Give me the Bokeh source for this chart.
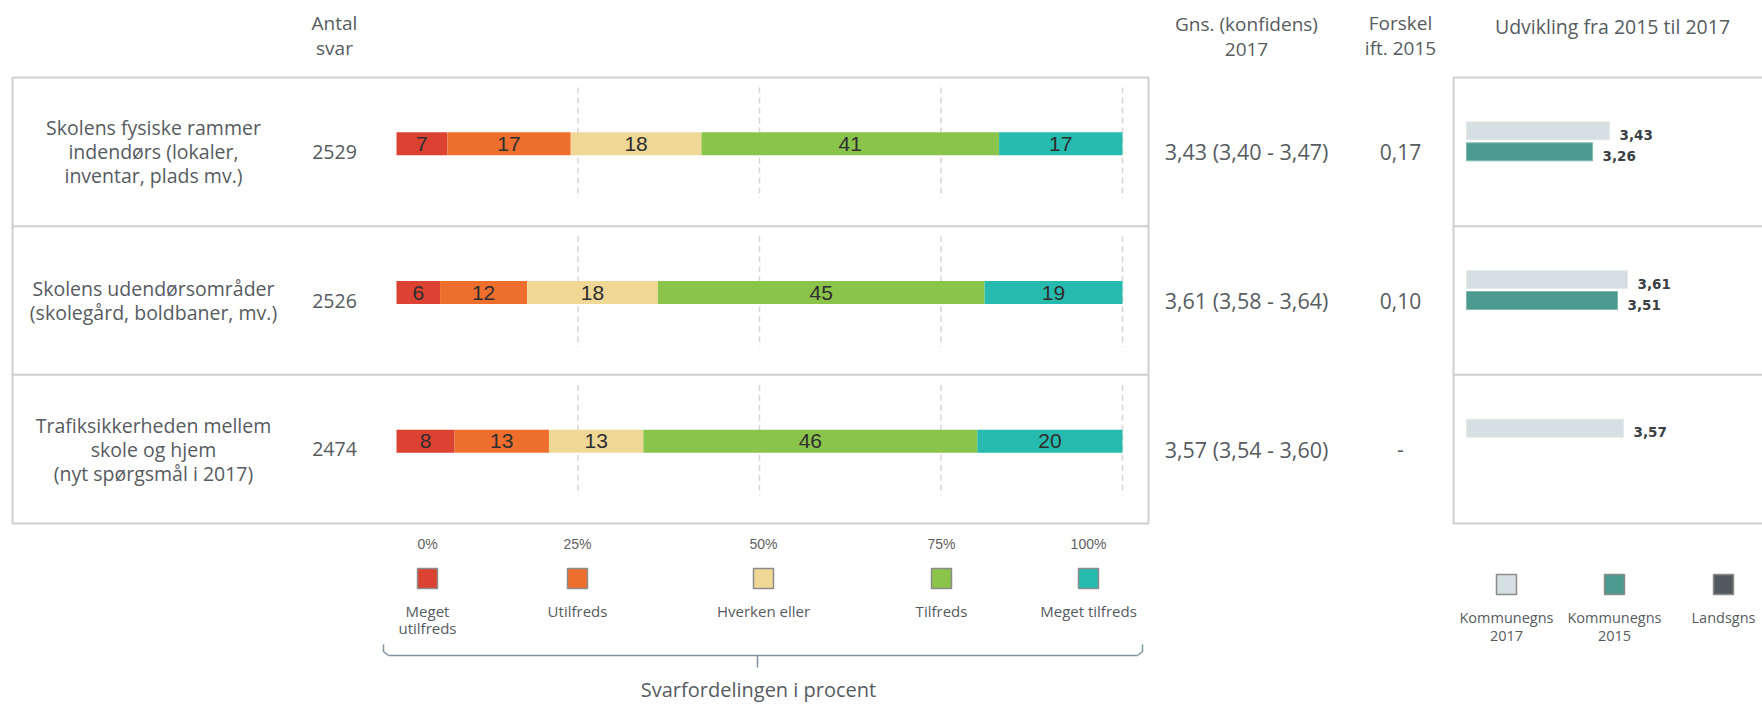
import numpy as np
from bokeh.plotting import figure
from bokeh.models import Range1d, ColumnDataSource
from bokeh.core.properties import value
from bokeh.embed import file_html
from bokeh.resources import INLINE

# ---------------- data ----------------
questions = [
    "Skolens fysiske rammer\nindendørs (lokaler,\ninventar, plads mv.)",
    "Skolens udendørsområder\n(skolegård, boldbaner, mv.)",
    "Trafiksikkerheden mellem\nskole og hjem\n(nyt spørgsmål i 2017)",
]
n_answers = [2529, 2526, 2474]
categories = ["Meget\nutilfreds", "Utilfreds", "Hverken eller", "Tilfreds", "Meget tilfreds"]
pct_meget_utilfreds = [7, 6, 8]
pct_utilfreds = [17, 12, 13]
pct_hverken = [18, 18, 13]
pct_tilfreds = [41, 45, 46]
pct_meget_tilfreds = [17, 19, 20]
tick_labels = ["0%", "25%", "50%", "75%", "100%"]
grid_pct = [25, 50, 75, 100]
mean_2017 = [3.43, 3.61, 3.57]
ci_low = [3.40, 3.58, 3.54]
ci_high = [3.47, 3.64, 3.60]
mean_2015 = [3.26, 3.51, None]
diff_2015 = [0.17, 0.10, None]
legend_right = ["Kommunegns\n2017", "Kommunegns\n2015", "Landsgns"]

# ---------------- style ----------------
FONT = value("Open Sans")
NUMF = value("Liberation Sans")
TXT = "#565b60"
seg_colors = ["#dc4232", "#ee6f2d", "#efd796", "#8bc44b", "#27bbaf"]
right_colors = ["#d6dfe1", "#4c9a8f", "#535a5f"]
BORDER = "#cfcfcf"
LH = 1.362  # Open Sans ascent+descent (em)

W, H = 1762, 705
X0, X1 = 0, W
Y0, Y1 = 0, H

# layout (page pixels)
ROW_TOP, ROW_BOT = 77, 523
ROW_H = (ROW_BOT - ROW_TOP) / 3
row_c = [ROW_TOP + ROW_H * (i + 0.5) for i in range(3)]
row_t = [ROW_TOP + ROW_H * i for i in range(3)]
PX0, PX100 = 396, 1122              # pixel span of the 0..100 % scale
SPX, SVAL, SPPU = 1466, 2.0, 100.0  # score scale: value 2 at 1466, 100 px / unit

p = figure(width=W, height=H, x_range=Range1d(X0, X1), y_range=Range1d(Y1, Y0),
           output_backend="svg", toolbar_location=None, x_axis_type=None,
           y_axis_type=None, min_border=0)
p.grid.visible = False
p.outline_line_color = None
p.background_fill_color = "white"

ppp = 100.0 / (PX100 - PX0)
p.extra_x_ranges = {
    "pct": Range1d(-(PX0 - X0) * ppp, 100 + (X1 - PX100) * ppp),
    "score": Range1d(SVAL - (SPX - X0) / SPPU, SVAL + (X1 - SPX) / SPPU),
}

# ---------------- boxes ----------------
p.quad(left=[12, 1453], right=[1148, 1775], top=[ROW_TOP, ROW_TOP], bottom=[ROW_BOT, ROW_BOT],
       fill_color=None, line_color=BORDER, line_width=2)
for yy in row_t[1:]:
    p.segment(x0=[12, 1453], x1=[1148, 1775], y0=[yy, yy], y1=[yy, yy],
              line_color=BORDER, line_width=2)

# ---------------- headers ----------------
p.text(x=[334, 1246, 1400], y=[35, 36, 35],
       text=["Antal\nsvar", "Gns. (konfidens)\n2017", "Forskel\nift. 2015"],
       text_font=FONT, text_font_size="19px", text_color=TXT, text_align="center",
       text_baseline="middle", text_line_height=24 / (LH * 19))
p.text(x=[1612], y=[26], text=["Udvikling fra 2015 til 2017"], text_font=FONT,
       text_font_size="19.5px", text_color=TXT, text_align="center", text_baseline="middle")

# ---------------- row texts ----------------
p.text(x=[153] * 3, y=row_c, text=questions, text_font=FONT, text_font_size="19.5px",
       text_color=TXT, text_align="center", text_baseline="middle",
       text_line_height=23.5 / (LH * 19.5))
p.text(x=[334] * 3, y=row_c, text=[str(v) for v in n_answers], text_font=FONT,
       text_font_size="19.5px", text_color=TXT, text_align="center", text_baseline="middle")

def fmt(v):
    return f"{v:.2f}".replace(".", ",")

mean_txt = [f"{fmt(m)} ({fmt(a)} - {fmt(b)})" for m, a, b in zip(mean_2017, ci_low, ci_high)]
diff_txt = [fmt(d) if d is not None else "-" for d in diff_2015]
p.text(x=[1246] * 3, y=row_c, text=mean_txt, text_font=FONT, text_font_size="21.5px",
       text_color=TXT, text_align="center", text_baseline="middle")
p.text(x=[1400] * 3, y=row_c, text=diff_txt, text_font=FONT, text_font_size="21px",
       text_color=TXT, text_align="center", text_baseline="middle")

# ---------------- gridlines ----------------
gx, gy0, gy1 = [], [], []
for t in row_t:
    for g in grid_pct:
        gx.append(g); gy0.append(t + 10); gy1.append(t + ROW_H - 28)
p.segment(x0=gx, x1=gx, y0=gy0, y1=gy1, x_range_name="pct", line_color="#d6d6d6",
          line_width=1.5, line_dash="6 4")

# ---------------- stacked bars ----------------
series = [pct_meget_utilfreds, pct_utilfreds, pct_hverken, pct_tilfreds, pct_meget_tilfreds]
vals = np.array(series, dtype=float)  # 5 x 3
cum = np.cumsum(vals, axis=0)
left = cum - vals
bar_y = [c - 8 for c in row_c]
for k in range(5):
    src = ColumnDataSource(dict(y=bar_y, left=left[k], right=cum[k],
                                mid=(left[k] + cum[k]) / 2, lab=[str(int(v)) for v in vals[k]]))
    p.hbar(y="y", left="left", right="right", height=23, source=src, x_range_name="pct",
           fill_color=seg_colors[k], line_color=None)
    p.text(x="mid", y="y", text="lab", source=src, x_range_name="pct", text_font=NUMF,
           text_font_size="21px", text_color="#2e2e2e", text_align="center",
           text_baseline="middle")

# ---------------- percent labels & legend (left) ----------------
LEG_X = [427, 577, 763, 941, 1088]
p.text(x=LEG_X, y=[543] * 5, text=tick_labels, text_font=NUMF, text_font_size="14px",
       text_color="#606060", text_align="center", text_baseline="middle")
p.scatter(x=LEG_X, y=[578] * 5, marker="square", size=20, fill_color=seg_colors,
          line_color="#8c8c8c", line_width=1.5)
leg_y = [610 + 9 * (c.count("\n")) for c in categories]
p.text(x=LEG_X, y=leg_y, text=categories, text_font=FONT, text_font_size="15px",
       text_color=TXT, text_align="center", text_baseline="middle",
       text_line_height=18 / (LH * 15))

# brace
bc = "#8193a0"
p.multi_line(xs=[[383, 383, 388], [388, 1137], [1142, 1142, 1137], [757, 757]],
             ys=[[644, 651, 655], [655, 655], [644, 651, 655], [655, 667]],
             line_color=bc, line_width=1.5)
p.text(x=[758], y=[689], text=["Svarfordelingen i procent"], text_font=FONT,
       text_font_size="20px", text_color=TXT, text_align="center", text_baseline="middle")

# ---------------- right mini bars ----------------
r17 = ColumnDataSource(dict(y=[c - 21 for c in row_c], v=mean_2017,
                            base=[SVAL] * 3, lab=[fmt(v) for v in mean_2017]))
p.hbar(y="y", left="base", right="v", height=18, source=r17, x_range_name="score",
       fill_color=right_colors[0], line_color="#e3e9ea", line_width=1)
p.text(x="v", y="y", text="lab", source=r17, x_range_name="score", x_offset=10, y_offset=4,
       text_font=value("DejaVu Sans"), text_font_style="bold", text_font_size="13.5px",
       text_color="#3a3f44", text_baseline="middle")
idx15 = [i for i, v in enumerate(mean_2015) if v is not None]
r15 = ColumnDataSource(dict(y=[row_c[i] for i in idx15], v=[mean_2015[i] for i in idx15],
                            base=[SVAL] * len(idx15), lab=[fmt(mean_2015[i]) for i in idx15]))
p.hbar(y="y", left="base", right="v", height=18, source=r15, x_range_name="score",
       fill_color=right_colors[1], line_color="#7fb9b0", line_width=1)
p.text(x="v", y="y", text="lab", source=r15, x_range_name="score", x_offset=10, y_offset=4,
       text_font=value("DejaVu Sans"), text_font_style="bold", text_font_size="13.5px",
       text_color="#3a3f44", text_baseline="middle")

# right legend
RLX = [1506, 1614, 1723]
p.scatter(x=RLX, y=[584] * 3, marker="square", size=20, fill_color=right_colors,
          line_color="#8c8c8c", line_width=1.5)
rleg_y = [617 + 9 * (c.count("\n")) for c in legend_right]
p.text(x=RLX, y=rleg_y, text=legend_right, text_font=FONT, text_font_size="14.5px",
       text_color=TXT, text_align="center", text_baseline="middle",
       text_line_height=18 / (LH * 14.5))

open("out.html", "w").write(file_html(p, INLINE))
